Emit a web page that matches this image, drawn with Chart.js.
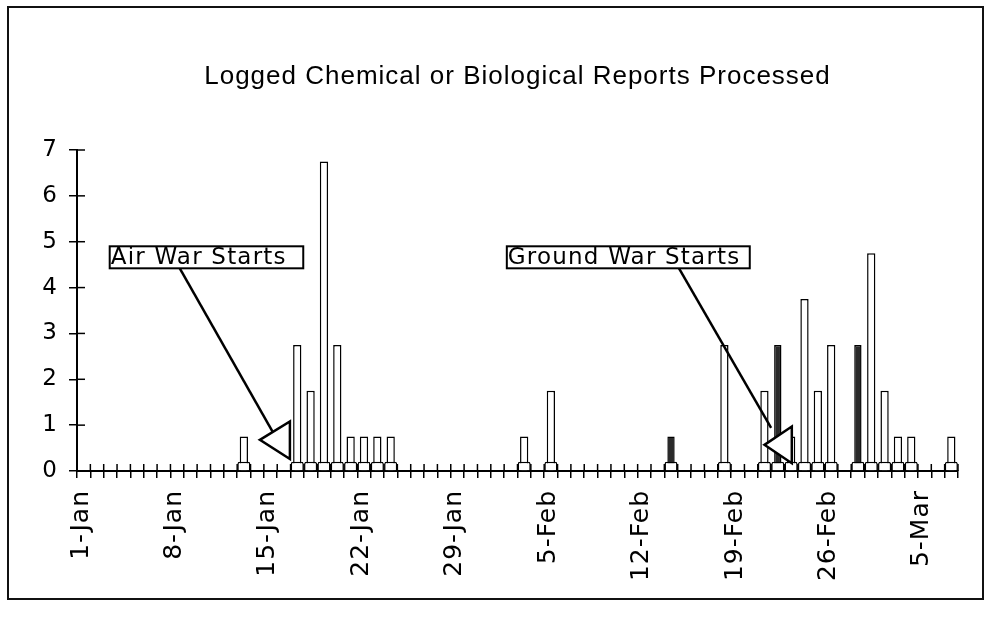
<!DOCTYPE html>
<html><head><meta charset="utf-8">
<script src="https://cdn.jsdelivr.net/npm/chart.js@4/dist/chart.umd.min.js"></script>
<style>
html,body{margin:0;padding:0;background:#fff;}
#wrap{position:relative;width:986px;height:617px;overflow:hidden;}
#frame{position:absolute;left:7px;top:6px;width:977px;height:594px;border:2px solid #111;box-sizing:border-box;}
canvas{position:absolute;left:0;top:0;}
</style></head><body>
<div id="wrap"><div id="frame"></div><canvas id="c" width="986" height="617"></canvas></div>
<script>
// ---- data ----
const tickLabels = ['1-Jan','8-Jan','15-Jan','22-Jan','29-Jan','5-Feb','12-Feb','19-Feb','26-Feb','5-Mar'];
const reportDates = ['13-Jan','17-Jan','18-Jan','19-Jan','20-Jan','21-Jan','22-Jan','23-Jan','24-Jan',
  '3-Feb','5-Feb','18-Feb','21-Feb','23-Feb','24-Feb','25-Feb','26-Feb','1-Mar','2-Mar','3-Mar','4-Mar','7-Mar'];
const reportCounts = [0.75,2.75,1.75,6.75,2.75,0.75,0.75,0.75,0.75,
  0.75,1.75,2.75,1.75,0.75,3.75,1.75,2.75,4.75,1.75,0.75,0.75,0.75];
const darkDates = ['14-Feb','22-Feb','28-Feb'];
const darkCounts = [0.75,2.75,2.75];
const baseDates = ['13-Jan','17-Jan','18-Jan','19-Jan','20-Jan','21-Jan','22-Jan','23-Jan','24-Jan',
  '3-Feb','5-Feb','14-Feb','18-Feb','21-Feb','22-Feb','23-Feb','24-Feb','25-Feb','26-Feb','28-Feb',
  '1-Mar','2-Mar','3-Mar','4-Mar','7-Mar'];
const baseHeights = [0.2,0.2,0.2,0.2,0.2,0.2,0.2,0.2,0.2,0.2,0.2,0.2,0.2,0.2,0.2,0.2,0.2,0.2,0.2,0.2,0.2,0.2,0.2,0.2,0.2];
const axisDays = [0, 66];   // 1-Jan .. 8-Mar
const yRange = [0, 7];

const monthStart = {Jan:0, Feb:31, Mar:59};
function dayOf(s){ const p = s.split('-'); return monthStart[p[1]] + Number(p[0]) - 1; }
function pts(dates, vals){ return dates.map((d,i)=>({x: dayOf(d) + 0.5, y: vals[i]})); }

// annotation callouts (positions in data units)
const callouts = [
  {text:'Air War Starts', box:[2.45,4.9,16.95,4.42], line:[[7.7,4.42],[14.65,0.86]], tri:[[13.7,0.68],[15.95,1.08],[15.95,0.26]]},
  {text:'Ground War Starts', box:[32.2,4.9,50.4,4.42], line:[[45.1,4.42],[52.0,0.94]], tri:[[51.5,0.57],[53.55,0.97],[53.55,0.17]]}
];

const spacingPlugin = {
  id:'spacing',
  beforeUpdate(chart){ chart.ctx.letterSpacing = '1px'; },
  beforeDraw(chart){ chart.ctx.letterSpacing = '1px'; }
};
const innerTicks = {
  id:'innerTicks',
  beforeDatasetsDraw(chart){
    const {ctx, scales:{x, y}} = chart;
    ctx.save(); ctx.strokeStyle = '#000'; ctx.lineWidth = 1.5;
    const yb = y.getPixelForValue(yRange[0]);
    x.ticks.forEach((t,i)=>{ const px = x.getPixelForTick(i); ctx.beginPath(); ctx.moveTo(px, yb); ctx.lineTo(px, yb-7); ctx.stroke(); });
    const xl = x.getPixelForValue(axisDays[0]);
    y.ticks.forEach((t,i)=>{ const py = y.getPixelForTick(i); ctx.beginPath(); ctx.moveTo(xl, py); ctx.lineTo(xl+8, py); ctx.stroke(); });
    ctx.restore();
  }
};
const calloutPlugin = {
  id:'callouts',
  afterDatasetsDraw(chart){
    const {ctx, scales:{x, y}} = chart;
    const P = p => [x.getPixelForValue(p[0]), y.getPixelForValue(p[1])];
    ctx.save();
    callouts.forEach(c=>{
      ctx.strokeStyle = '#000'; ctx.lineWidth = 2.5;
      const a = P(c.line[0]), b = P(c.line[1]);
      ctx.beginPath(); ctx.moveTo(a[0],a[1]); ctx.lineTo(b[0],b[1]); ctx.stroke();
      const t = c.tri.map(P);
      ctx.beginPath(); ctx.moveTo(t[0][0],t[0][1]); ctx.lineTo(t[1][0],t[1][1]); ctx.lineTo(t[2][0],t[2][1]); ctx.closePath();
      ctx.fillStyle = '#fff'; ctx.fill(); ctx.stroke();
      const b0 = P([c.box[0], c.box[1]]), b1 = P([c.box[2], c.box[3]]);
      ctx.lineWidth = 2;
      ctx.fillStyle = '#fff'; ctx.fillRect(b0[0], b0[1], b1[0]-b0[0], b1[1]-b0[1]);
      ctx.strokeRect(b0[0], b0[1], b1[0]-b0[0], b1[1]-b0[1]);
      ctx.fillStyle = '#000'; ctx.font = '23px "DejaVu Sans"'; ctx.textBaseline = 'middle'; ctx.textAlign = 'left';
      ctx.letterSpacing = '1.2px';
      ctx.fillText(c.text, b0[0]+1, (b0[1]+b1[1])/2 + 1);
    });
    ctx.restore();
  }
};

new Chart(document.getElementById('c'), {
  type:'bar',
  data:{ datasets:[
    { label:'Base', data: pts(baseDates, baseHeights), backgroundColor:'#fff', borderColor:'#000', borderWidth:1.5,
      barPercentage:0.98, categoryPercentage:1, grouped:false, order:0, borderSkipped:'start',
      borderRadius:{topLeft:2, topRight:2, bottomLeft:0, bottomRight:0} },
    { label:'Reports', data: pts(reportDates, reportCounts), backgroundColor:'#fff', borderColor:'#000', borderWidth:1.5,
      barPercentage:0.62, categoryPercentage:1, grouped:false, order:2, borderSkipped:'start' },
    { label:'Reports (dark)', data: pts(darkDates, darkCounts), backgroundColor:'#2a2a2a', borderColor:'#000', borderWidth:1.5,
      barPercentage:0.55, categoryPercentage:1, grouped:false, order:2, borderSkipped:'start' }
  ]},
  options:{
    responsive:false, animation:false, devicePixelRatio:1,
    layout:{ padding:{ left:0, right:28, top:0, bottom:0 } },
    plugins:{
      legend:{ display:false }, tooltip:{ enabled:false },
      title:{ display:true, fullSize:false, text:'Logged Chemical or Biological Reports Processed', color:'#000',
        font:{ family:'Liberation Sans', size:26, weight:'normal' }, padding:{ top:61, bottom:57.8 } }
    },
    scales:{
      x:{ type:'linear', offset:false, min:axisDays[0], max:axisDays[1],
        ticks:{ stepSize:1, autoSkip:false, minRotation:90, maxRotation:90, padding:12, labelOffset:4, color:'#000',
          font:{ family:'DejaVu Sans', size:25 },
          callback:(v)=>{ const l = tickLabels.find(s=>dayOf(s)===v); return l ? l : ''; } },
        grid:{ offset:false, drawOnChartArea:false, tickLength:7, color:'#000', lineWidth:1.5 },
        border:{ color:'#000', width:2 },
        afterFit:(s)=>{ s.height = 146; s.paddingRight = 0; s.paddingLeft = 0; } },
      y:{ min:yRange[0], max:yRange[1],
        ticks:{ stepSize:1, padding:11, color:'#000', font:{ family:'DejaVu Sans', size:23 } },
        grid:{ drawOnChartArea:false, tickLength:8, color:'#000', lineWidth:1.5 },
        border:{ color:'#000', width:2 },
        afterFit:(s)=>{ s.width = 77; } }
    }
  },
  plugins:[spacingPlugin, innerTicks, calloutPlugin]
});
</script>
</body></html>
